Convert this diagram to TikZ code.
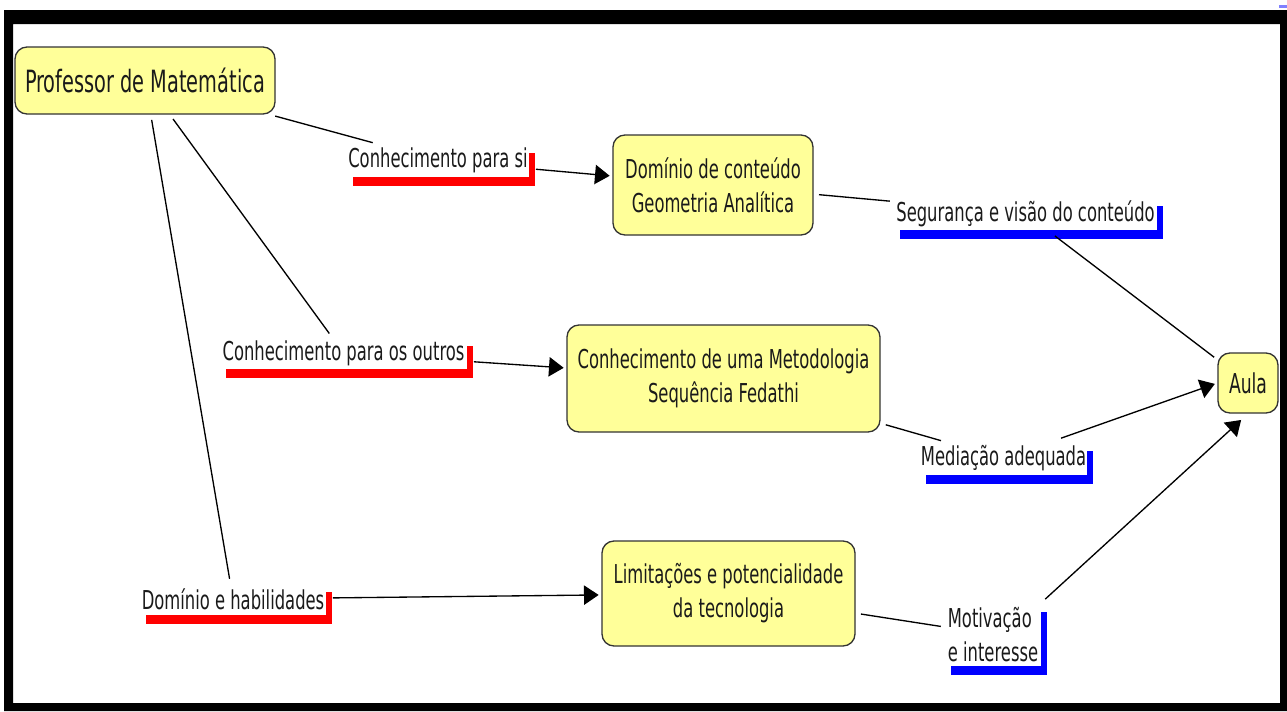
\documentclass[tikz,border=0pt]{standalone}
\usepackage{fontspec}
\setmainfont{DejaVu Sans}[FakeStretch=0.63]
\usetikzlibrary{shadows,arrows.meta}
\definecolor{boxyellow}{HTML}{FFFF99}
\definecolor{boxline}{HTML}{333333}
\definecolor{txt}{HTML}{1A1A1A}
\begin{document}
\begin{tikzpicture}[x=0.75pt,y=-0.75pt,
  every node/.style={font=\fontsize{19.5}{25.5}\selectfont, text=txt},
  concept/.style={draw=boxline, line width=1pt, fill=boxyellow, rounded corners=9pt, align=center, inner sep=2pt},
  lblred/.style={fill=white, inner sep=1pt, general shadow={fill=red, shadow xshift=4.5pt, shadow yshift=-6.5pt}},
  lblblue/.style={fill=white, inner sep=1pt, general shadow={fill=blue, shadow xshift=4.5pt, shadow yshift=-6.5pt}},
  link/.style={line width=1pt, draw=black, shorten <=4pt, shorten >=3pt},
  arr/.style={link, -{Triangle[length=11pt,width=14.5pt]}, shorten >=2pt}
]
\useasboundingbox (0,0) rectangle (1287,711);
\fill[white] (0,0) rectangle (1287,711);
\fill[black, even odd rule] (4,10) rectangle (1287,711) (13,24) rectangle (1280,703);
\fill[blue!50] (1279,5) rectangle (1287,7.5);

\node[concept, minimum width=195pt, minimum height=50.25pt, font=\fontsize{23}{27}\selectfont] (prof) at (145,80.5) {Professor de Matemática};
\node[concept, minimum width=150pt, minimum height=75pt] (dom) at (713,185) {Domínio de conteúdo\\Geometria Analítica};
\node[concept, minimum width=234.75pt, minimum height=80.25pt] (met) at (723.5,378.5) {Conhecimento de uma Metodologia\\Sequência Fedathi};
\node[concept, minimum width=189.75pt, minimum height=78.75pt] (lim) at (728.5,593.5) {Limitações e potencialidade\\da tecnologia};
\node[concept, minimum width=45pt, minimum height=45pt, font=\fontsize{20.5}{25.5}\selectfont] (aula) at (1248,383) {Aula};

\node[lblred, minimum width=136.5pt, minimum height=24.75pt] (l1) at (438,160.5) {Conhecimento para si};
\node[lblblue, minimum width=197.25pt, minimum height=24.75pt] (l2) at (1025.5,213.5) {Segurança e visão do conteúdo};
\node[lblred, minimum width=185.25pt, minimum height=24pt] (l3) at (343.5,353) {Conhecimento para os outros};
\node[lblblue, minimum width=125.25pt, minimum height=24.75pt] (l4) at (1003.5,458.5) {Mediação adequada};
\node[lblred, minimum width=139.5pt, minimum height=24pt] (l5) at (233,599) {Domínio e habilidades};
\node[lblblue, minimum width=72pt, minimum height=47.25pt, align=left] (l6) at (993,634.5) {Motivação\\e interesse};

\draw[link] (prof) -- (l1);
\draw[arr, shorten <=5pt] (l1) -- (dom);
\draw[link] (dom) -- (l2);
\draw[link, shorten <=7pt] (l2) -- (aula);
\draw[link] (prof) -- (l3);
\draw[arr, shorten <=5pt] (l3) -- (met);
\draw[link] (met) -- (l4);
\draw[arr, shorten <=8pt] (l4) -- (aula.west);
\draw[link] (prof) -- (l5);
\draw[arr, shorten <=5pt] (l5) -- (lim);
\draw[link] (lim) -- (l6);
\draw[arr, shorten >=7pt] (l6.north east) -- (aula.south);
\end{tikzpicture}
\end{document}
